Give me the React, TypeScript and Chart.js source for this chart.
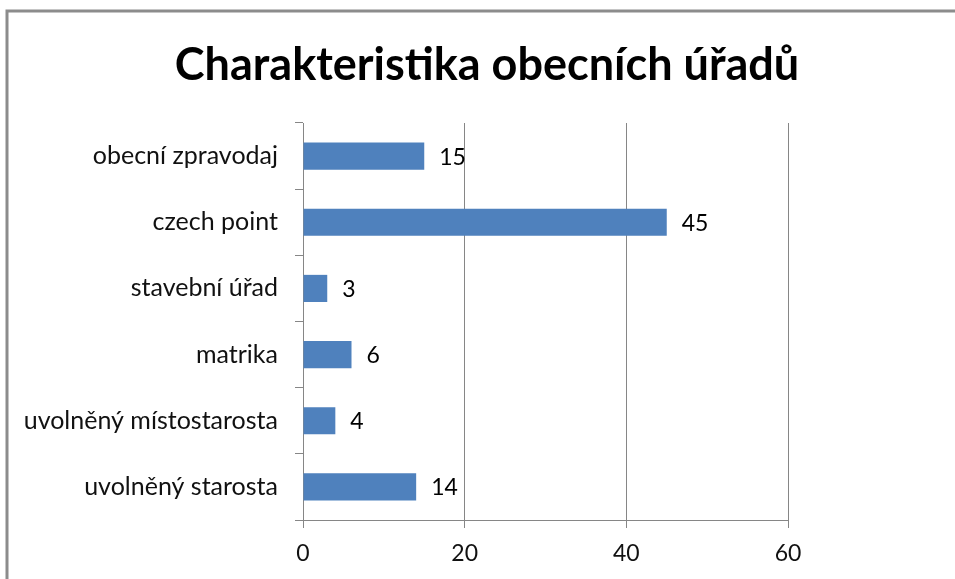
import React, { useEffect, useRef } from "react";
import { Chart, registerables } from "chart.js";

Chart.register(...registerables);

const titleText = "Charakteristika obecních úřadů";
const categories = [
  "obecní zpravodaj",
  "czech point",
  "stavební úřad",
  "matrika",
  "uvolněný místostarosta",
  "uvolněný starosta",
];
const values = [15, 45, 3, 6, 4, 14];
const xTicks = [0, 20, 40, 60];

const FONT = "Lato, 'Open Sans', sans-serif";
const AXIS_GRAY = "#868686";

const framePlugin = {
  id: "frame",
  beforeDraw(chart: any) {
    const { ctx, width, height } = chart;
    ctx.save();
    ctx.fillStyle = "#ffffff";
    ctx.fillRect(0, 0, width, height);
    ctx.strokeStyle = "#8c8c8c";
    ctx.lineWidth = 3;
    ctx.beginPath();
    ctx.moveTo(7, height);
    ctx.lineTo(7, 11);
    ctx.lineTo(width, 11);
    ctx.stroke();
    ctx.restore();
  },
  afterDraw(chart: any) {
    const { ctx } = chart;
    ctx.save();
    ctx.fillStyle = "#000000";
    ctx.font = `bold 45px ${FONT}`;
    ctx.textAlign = "center";
    ctx.textBaseline = "alphabetic";
    ctx.fillText(titleText, 487, 80);
    ctx.restore();
  },
};

const valueLabelPlugin = {
  id: "valueLabels",
  afterDatasetsDraw(chart: any) {
    const { ctx } = chart;
    const meta = chart.getDatasetMeta(0);
    ctx.save();
    ctx.fillStyle = "#000000";
    ctx.font = `23px ${FONT}`;
    ctx.textAlign = "left";
    ctx.textBaseline = "alphabetic";
    meta.data.forEach((bar: any, i: number) => {
      ctx.fillText(String(values[i]), bar.x + 15, bar.y + 8.5);
    });
    ctx.restore();
  },
};

export default function App() {
  const canvasRef = useRef<HTMLCanvasElement | null>(null);

  useEffect(() => {
    const canvas = canvasRef.current;
    if (!canvas) return;
    const chart = new Chart(canvas, {
      type: "bar",
      data: {
        labels: categories,
        datasets: [
          {
            data: values,
            backgroundColor: "#4f81bd",
            borderWidth: 0,
            barPercentage: 0.41,
            categoryPercentage: 1,
          },
        ],
      },
      options: {
        indexAxis: "y",
        responsive: false,
        animation: false,
        devicePixelRatio: 1,
        layout: { padding: { left: 0, right: 167, top: 123, bottom: 0 } },
        plugins: {
          legend: { display: false },
          title: { display: false },
          tooltip: { enabled: false },
        },
        scales: {
          x: {
            min: 0,
            max: 60,
            afterBuildTicks: (scale: any) => {
              scale.ticks = xTicks.map((v) => ({ value: v }));
            },
            afterFit: (scale: any) => {
              scale.height = 59;
            },
            grid: {
              color: AXIS_GRAY,
              lineWidth: 1,
              drawTicks: true,
              tickLength: 8,
            },
            border: { display: true, color: AXIS_GRAY, width: 1 },
            ticks: {
              color: "#111111",
              font: { family: FONT, size: 23 },
              padding: 12,
            },
          },
          y: {
            afterFit: (scale: any) => {
              scale.width = 303;
            },
            grid: {
              color: AXIS_GRAY,
              drawOnChartArea: false,
              drawTicks: true,
              tickLength: 8,
              offset: true,
            },
            border: { display: true, color: AXIS_GRAY, width: 1 },
            ticks: {
              color: "#111111",
              font: { family: FONT, size: 25 },
              padding: 17,
            },
          },
        },
      },
      plugins: [framePlugin, valueLabelPlugin],
    });
    return () => chart.destroy();
  }, []);

  return (
    <div style={{ position: "absolute", left: 0, top: 0, width: 955, height: 579 }}>
      <canvas ref={canvasRef} width={955} height={579} style={{ display: "block" }} />
    </div>
  );
}
